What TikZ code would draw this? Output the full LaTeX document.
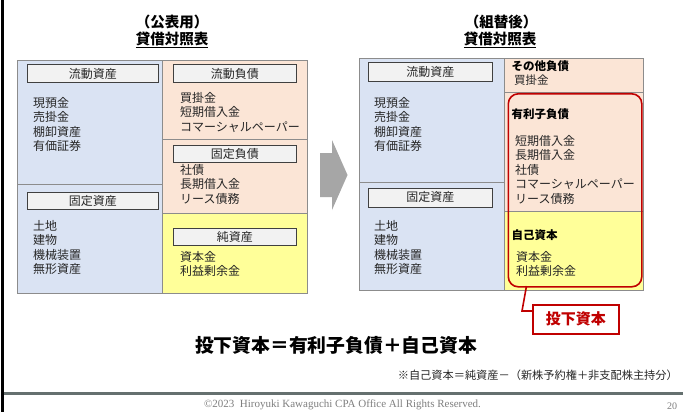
\documentclass[tikz,border=0pt]{standalone}
\usepackage{fontspec}
\setmainfont{Noto Sans CJK JP}
\newfontfamily\serifrm{Liberation Serif}
\definecolor{cblue}{HTML}{DAE3F3}
\definecolor{cpeach}{HTML}{FBE5D6}
\definecolor{cyellow}{HTML}{FFFF99}
\definecolor{cborder}{HTML}{8C8C8C}
\definecolor{hfill}{HTML}{F2F2F2}
\definecolor{hborder}{HTML}{404040}
\definecolor{cred}{HTML}{C00000}
\definecolor{agray}{HTML}{A6A6A6}
\definecolor{txt}{HTML}{262626}
\definecolor{fgray}{HTML}{7F7F7F}
\definecolor{lgray}{HTML}{65706F}
\tikzset{
  cell/.style={draw=cborder, line width=0.8pt, anchor=north west, inner sep=0pt},
  hbox/.style={draw=hborder, fill=hfill, line width=0.7pt, anchor=north west, inner sep=0pt,
    font=\fontsize{12}{14}\selectfont, text=txt},
  lst/.style={anchor=north west, inner sep=0pt, align=left,
    font=\fontsize{12}{14.5}\selectfont, text=txt},
  btitle/.style={inner sep=0pt, font=\fontsize{14.5}{16}\selectfont\bfseries, text=black},
  blabel/.style={anchor=west, inner sep=0pt, font=\fontsize{11.5}{14}\selectfont\bfseries, text=black},
}
\begin{document}
\begin{tikzpicture}[x=1pt,y=-1pt]
\useasboundingbox (0,0) rectangle (683,412);
\fill[white] (0,0) rectangle (683,412);
% page frame lines
\draw[black, line width=2.2pt] (2.5,0) -- (2.5,412);
\draw[lgray, line width=2.5pt] (3.6,393.5) -- (683,393.5);

% ---------- left table ----------
\node[btitle] (t1a) at (172,22) {（公表用）};
\node[btitle] (t1b) at (172,40) {\underline{貸借対照表}};
\node[cell, fill=cblue, minimum width=145pt, minimum height=124pt] (la) at (17,60) {};
\node[cell, fill=cblue, minimum width=145pt, minimum height=109pt] (lb) at (17,184) {};
\node[cell, fill=cpeach, minimum width=145pt, minimum height=79pt] (ra) at (162,60) {};
\node[cell, fill=cpeach, minimum width=145pt, minimum height=74pt] (rb) at (162,139) {};
\node[cell, fill=cyellow, minimum width=145pt, minimum height=80pt] (rc) at (162,213) {};

\node[hbox, minimum width=131pt, minimum height=18pt] (h1) at (27,64.5) {流動資産};
\node[hbox, minimum width=131pt, minimum height=17pt] (h2) at (27,192) {固定資産};
\node[hbox, minimum width=123pt, minimum height=18pt] (h3) at (173,64.5) {流動負債};
\node[hbox, minimum width=123pt, minimum height=17pt] (h4) at (173,145) {固定負債};
\node[hbox, minimum width=123pt, minimum height=17pt] (h5) at (173,228) {純資産};

\node[lst] (l1) at (33,97) {現預金\\売掛金\\棚卸資産\\有価証券};
\node[lst] (l2) at (33,220) {土地\\建物\\機械装置\\無形資産};
\node[lst] (l3) at (180,92) {買掛金\\短期借入金\\コマーシャルペーパー};
\node[lst] (l4) at (180,164) {社債\\長期借入金\\リース債務};
\node[lst] (l5) at (180,251) {資本金\\利益剰余金};

% ---------- arrow ----------
\fill[agray] (320,153) -- (332,153) -- (332,140) -- (347.5,175) -- (332,210) -- (332,197) -- (320,197) -- cycle;

% ---------- right table ----------
\node[btitle] (t2a) at (501,22) {（組替後）};
\node[btitle] (t2b) at (500,40) {\underline{貸借対照表}};
\node[cell, fill=cblue, minimum width=145pt, minimum height=124pt] (ma) at (359,58) {};
\node[cell, fill=cblue, minimum width=145pt, minimum height=108pt] (mb) at (359,182) {};
\node[cell, fill=cpeach, minimum width=139pt, minimum height=34pt] (na) at (504,58) {};
\node[cell, fill=cpeach, minimum width=139pt, minimum height=119pt] (nb) at (504,92) {};
\node[cell, fill=cyellow, minimum width=139pt, minimum height=79pt] (nc) at (504,211) {};

\node[hbox, minimum width=124pt, minimum height=19pt] (h6) at (368,62) {流動資産};
\node[hbox, minimum width=124pt, minimum height=19pt] (h7) at (368,187.5) {固定資産};

\node[lst] (m1) at (374,97) {現預金\\売掛金\\棚卸資産\\有価証券};
\node[lst] (m2) at (374,220) {土地\\建物\\機械装置\\無形資産};

\node[blabel] (b1) at (511.5,66) {その他負債};
\node[lst, font=\fontsize{11.5}{14}\selectfont] (n1) at (514,74.5) {買掛金};
\node[blabel] (b2) at (511.5,114.5) {有利子負債};
\node[lst] (n2) at (515,135) {短期借入金\\長期借入金\\社債\\コマーシャルペーパー\\リース債務};
\node[blabel] (b3) at (511.5,235) {自己資本};
\node[lst] (n3) at (516,251) {資本金\\利益剰余金};

% red rounded frame and callout
\node[draw=cred, line width=1.6pt, rounded corners=10pt, anchor=north west, inner sep=0pt,
  minimum width=133.5pt, minimum height=193pt] (red) at (507.5,93) {};
\node[draw=cred, fill=white, line width=1.6pt, anchor=north west, inner sep=0pt,
  minimum width=86pt, minimum height=29pt, text=cred,
  font=\fontsize{15}{16}\selectfont\bfseries] (call) at (532,304) {投下資本};
\coordinate (cp) at (522,311);
\coordinate (ctop) at (526.5,286);
\draw[cred, line width=1.6pt] (ctop) -- (cp) -- (cp -| call.west);

% ---------- bottom texts ----------
\node[inner sep=0pt, font=\fontsize{18.8}{20}\selectfont\bfseries, text=black] (eq) at (336,345)
  {投下資本＝有利子負債＋自己資本};
\node[anchor=east, inner sep=0pt, font=\fontsize{11.2}{12}\selectfont, text=txt] (note) at (678,375)
  {※自己資本＝純資産－（新株予約権＋非支配株主持分）};
\node[inner sep=0pt, font=\serifrm\fontsize{11}{12}\selectfont, text=fgray] (copy) at (342.5,405)
  {©2023\ \ Hiroyuki Kawaguchi CPA Office All Rights Reserved.};
\node[inner sep=0pt, font=\serifrm\fontsize{10}{12}\selectfont, text=fgray] (pg) at (672,406.5) {20};
\end{tikzpicture}
\end{document}
